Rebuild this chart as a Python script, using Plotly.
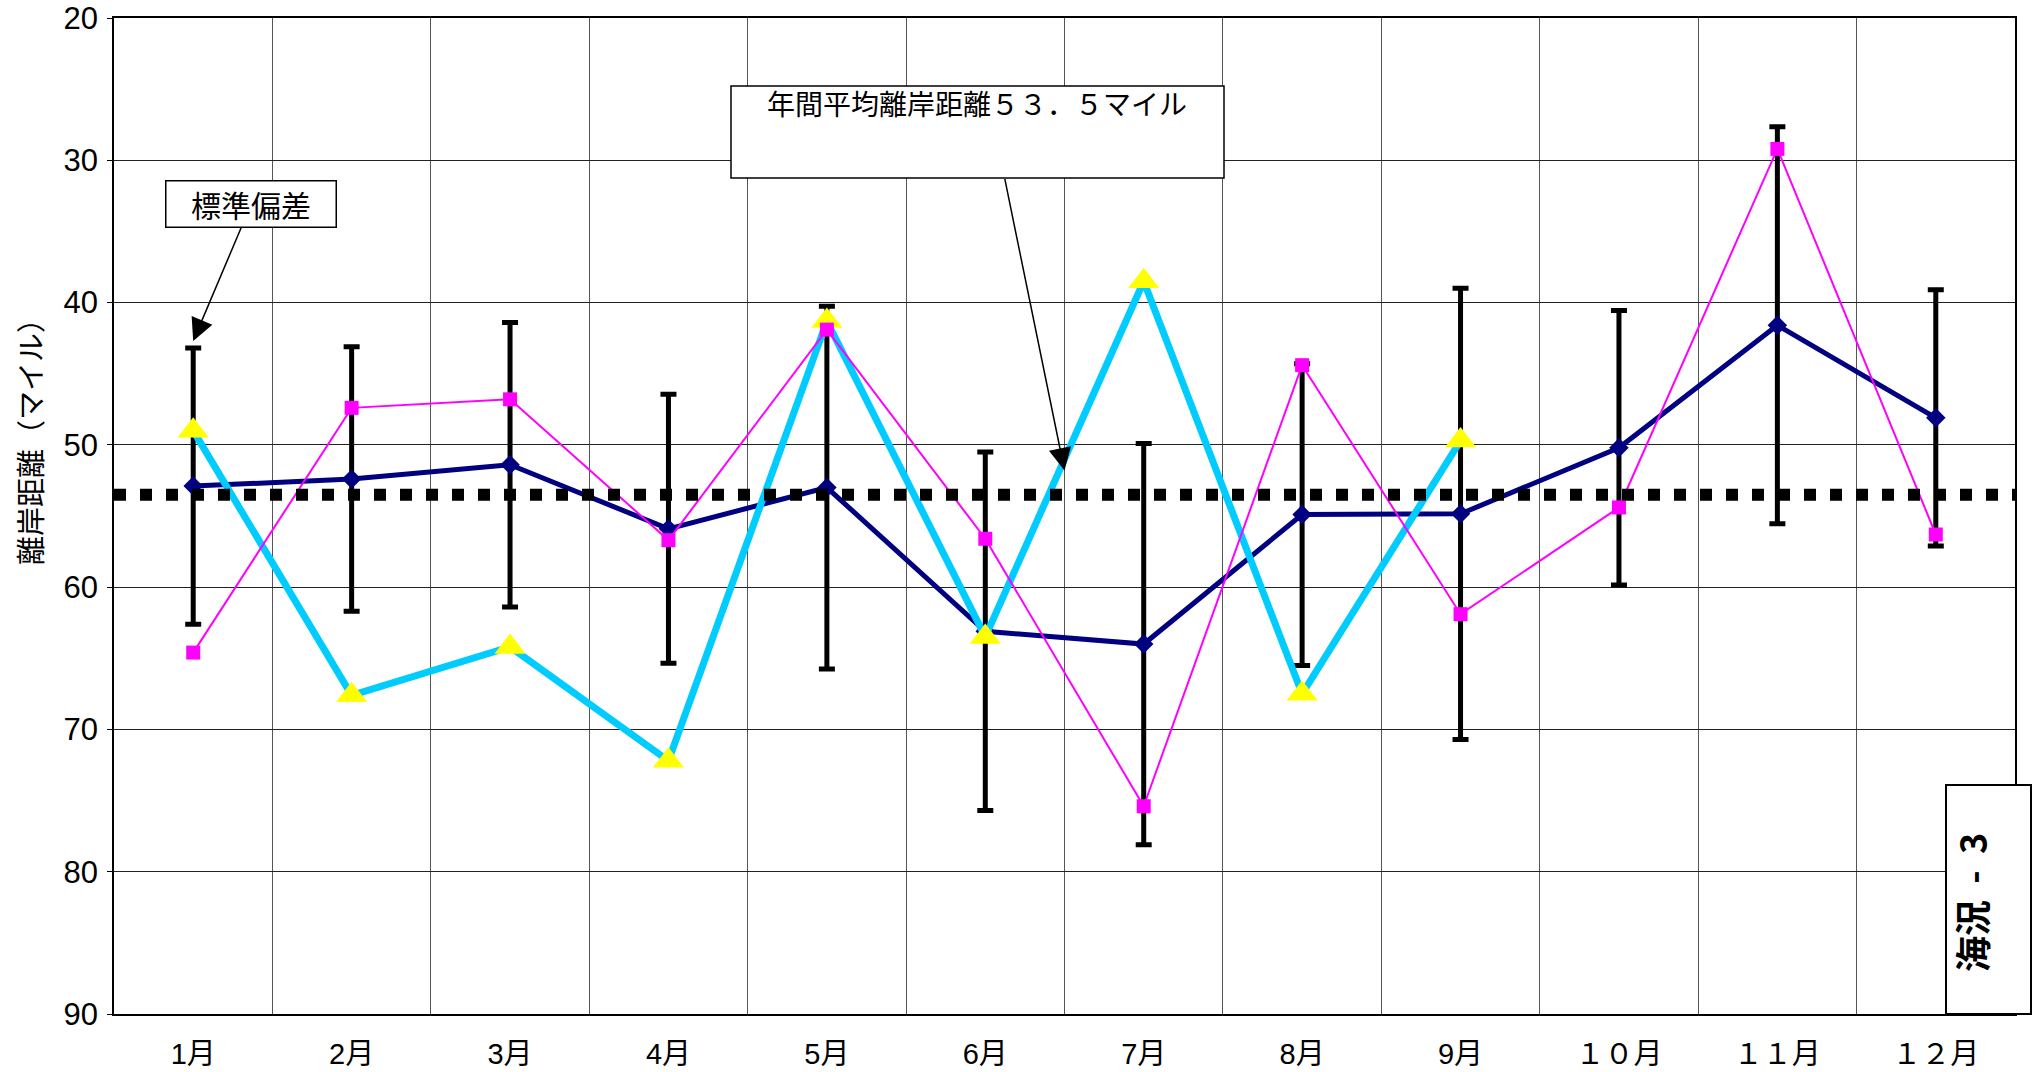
import plotly.graph_objects as go

# ---------------- data ----------------
months = ["1月", "2月", "3月", "4月", "5月", "6月", "7月", "8月", "9月", "１０月", "１１月", "１２月"]
mean_dist = [52.9, 52.4, 51.4, 55.9, 53.0, 63.1, 64.0, 54.9, 54.85, 50.2, 41.6, 48.1]      # navy diamonds
std_dev = [9.7, 9.3, 10.0, 9.45, 12.75, 12.6, 14.1, 10.6, 15.85, 9.65, 13.95, 9.0]          # error bars
series_pink = [64.6, 47.4, 46.8, 56.7, 41.9, 56.6, 75.4, 44.4, 61.9, 54.4, 29.2, 56.3]     # magenta squares
series_cyan = [49.0, 67.6, 64.2, 72.2, 41.3, 63.5, 38.5, 67.5, 49.7, None, None, None]     # cyan / yellow triangles
annual_mean = 53.5
y_ticks = [20, 30, 40, 50, 60, 70, 80, 90]

W, H = 2040, 1072
ML, MR, MT, MB = 114, 25, 18, 58
PW, PH = W - ML - MR, H - MT - MB


def px_x(p):
    return (p - ML) / PW


def px_y(p):
    return (H - MB - p) / PH


NUM_FONT = "Liberation Sans, Noto Sans CJK JP, sans-serif"
JP_FONT = "Noto Sans CJK JP, sans-serif"

fig = go.Figure()

fig.add_trace(go.Scatter(
    x=months, y=mean_dist, mode="lines+markers",
    line=dict(color="#000080", width=5),
    marker=dict(symbol="diamond", size=15, color="#000080", line=dict(width=0)),
    error_y=dict(type="data", array=std_dev, symmetric=True, color="black", thickness=5, width=8),
    showlegend=False,
))

fig.add_trace(go.Scatter(
    x=months, y=series_cyan, mode="lines+markers",
    line=dict(color="#00CCFF", width=7),
    marker=dict(symbol="triangle-up", size=27, color="#FFFF00", line=dict(width=0)),
    showlegend=False,
))

fig.add_trace(go.Scatter(
    x=months, y=series_pink, mode="lines+markers",
    line=dict(color="#FF00FF", width=2),
    marker=dict(symbol="square", size=14, color="#FF00FF", line=dict(width=0)),
    showlegend=False,
))

shapes = [
    # annual mean dotted line
    dict(type="line", xref="paper", yref="y", x0=0, x1=1, y0=annual_mean, y1=annual_mean,
         line=dict(color="black", width=12, dash="12px,14px"), layer="above"),
    # annual mean label box
    dict(type="rect", xref="paper", yref="paper",
         x0=px_x(731), x1=px_x(1224), y0=px_y(178), y1=px_y(86),
         line=dict(color="black", width=1.5), fillcolor="white", layer="above"),
    # 海況-3 box
    dict(type="rect", xref="paper", yref="paper",
         x0=px_x(1946), x1=px_x(2031), y0=0, y1=px_y(785),
         line=dict(color="black", width=2), fillcolor="white", layer="above"),
]

annotations = [
    # y axis title
    dict(text="離岸距離（マイル）", xref="paper", yref="paper", x=px_x(29), y=px_y(435),
         xanchor="center", yanchor="middle",
         textangle=-90, showarrow=False, font=dict(family=JP_FONT, size=29, color="black")),
    # 標準偏差 callout
    dict(text="標準偏差", xref="x", yref="y", x=0, y=mean_dist[0] - std_dev[0] - 0.5,
         ax=58, ay=-137, showarrow=True, arrowhead=2, arrowsize=3, arrowwidth=1.5,
         arrowcolor="black", font=dict(family=JP_FONT, size=30, color="black"),
         bgcolor="white", bordercolor="black", borderwidth=1.5, borderpad=3,
         width=163, height=39),
    # annual mean text
    dict(text="年間平均離岸距離５３．５マイル", xref="paper", yref="paper",
         x=px_x(977), y=px_y(103), xanchor="center", yanchor="middle", showarrow=False,
         font=dict(family=JP_FONT, size=28, color="black")),
    # annual mean arrow
    dict(text="", xref="x", yref="y", x=5.5, y=51.8, ax=-60, ay=-293,
         showarrow=True, arrowhead=2, arrowsize=3, arrowwidth=1.5, arrowcolor="black"),
    # 海況-3 text
    dict(text="<b>海況\u00a0\u00a0-\u00a0\u00a03</b>", xref="paper", yref="paper",
         x=px_x(1971), y=px_y(903), xanchor="center", yanchor="middle",
         textangle=-90, showarrow=False, font=dict(family=JP_FONT, size=36, color="black")),
]

fig.update_layout(
    width=W, height=H,
    margin=dict(l=ML, r=MR, t=MT, b=MB, autoexpand=False),
    paper_bgcolor="white", plot_bgcolor="white",
    shapes=shapes, annotations=annotations,
    showlegend=False,
)

fig.update_xaxes(
    type="category", tickson="boundaries", range=[-0.5, len(months) - 0.5],
    showgrid=True, gridcolor="#555555", gridwidth=1,
    showline=True, linecolor="black", linewidth=1.5, mirror=True,
    ticks="", ticklabelstandoff=13, automargin=False,
    tickfont=dict(family=NUM_FONT, size=29, color="black"),
)

fig.update_yaxes(
    range=[90, 20], tickvals=y_ticks, ticktext=[str(v) for v in y_ticks],
    showgrid=True, gridcolor="#222222", gridwidth=1,
    showline=True, linecolor="black", linewidth=1.5, mirror=True,
    ticks="outside", ticklen=5, tickcolor="black", ticklabelstandoff=3, automargin=False,
    tickfont=dict(family=NUM_FONT, size=31, color="black"),
    zeroline=False,
)

fig.write_html("out.html", config={"displayModeBar": False},
               post_script="document.body.style.margin='0';")
